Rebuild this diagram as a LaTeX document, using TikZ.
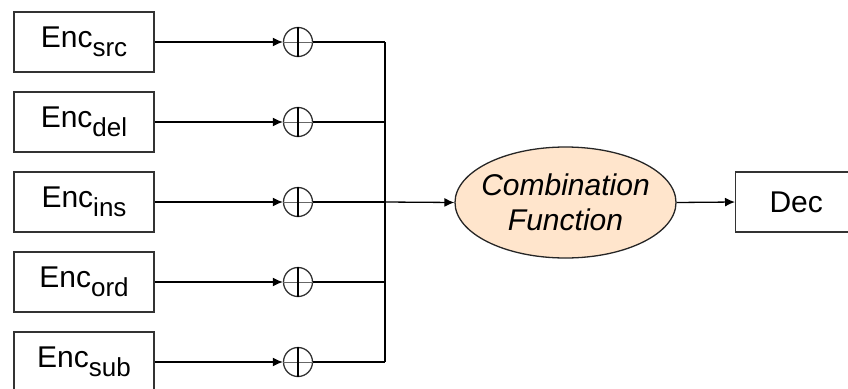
\documentclass[tikz,border=0pt]{standalone}
\usepackage{fontspec}
\setmainfont{Liberation Sans}
\usetikzlibrary{arrows.meta,shapes.geometric}

\newcommand{\encsub}[1]{Enc\raisebox{-9pt}{\fontsize{26}{26}\selectfont #1}}
\newcommand{\zerowd}[1]{\makebox[0pt]{#1}}

\tikzset{
  encbox/.style={draw=black!80, line width=1.4pt, minimum width=140pt, minimum height=60pt,
                 inner sep=0pt, font=\fontsize{30}{35}\selectfont},
  sumnode/.style={circle, draw=black!80, line width=1.3pt, minimum size=29pt, inner sep=0pt},
  wire/.style={line width=1.3pt, black},
  arr/.style={wire, -{Latex[length=10pt,width=9pt]}},
  combo/.style={ellipse, draw=black!85, line width=1.3pt, fill=orange!20!white,
                minimum width=221pt, minimum height=111pt, inner sep=0pt, align=center,
                font=\fontsize{30}{35}\selectfont\itshape},
}

\begin{document}
\begin{tikzpicture}[x=1pt,y=-1pt]
  \useasboundingbox (0,0) rectangle (848,388);

  % encoders
  \node[encbox] (e1) at (84,42)  {\encsub{src}};
  \node[encbox] (e2) at (84,122) {\encsub{del}};
  \node[encbox] (e3) at (84,202) {\encsub{ins}};
  \node[encbox] (e4) at (84,282) {\encsub{ord}};
  \node[encbox] (e5) at (84,362) {\encsub{sub}};

  % summation points
  \foreach \i/\y in {1/42,2/122,3/202,4/282,5/362} {
    \node[sumnode] (s\i) at (298,\y) {};
    \draw[line width=1pt, black!60] (s\i.west) -- (s\i.east);
    \draw[line width=1.2pt, black] (s\i.north) -- (s\i.south);
    \draw[arr] (e\i.east) -- (s\i.west);
  }

  % merge bus
  \coordinate (b1) at (385,42);
  \coordinate (b5) at (385,362);
  \coordinate (bm) at (385,202);
  \foreach \i in {1,...,5} { \draw[wire] (s\i.east) -- (s\i.east -| b1); }
  \draw[wire] (b1) -- (b5);

  % combination and decoder
  \node[combo] (cf) at (565.5,202.5) {\zerowd{Combination}\\\zerowd{Function}};
  \node[encbox, minimum width=121pt, anchor=west] (dec) at (735,202) {Dec};

  \draw[arr] (bm) -- (cf.west);
  \draw[arr] (cf.east) -- (dec.west);
\end{tikzpicture}
\end{document}
